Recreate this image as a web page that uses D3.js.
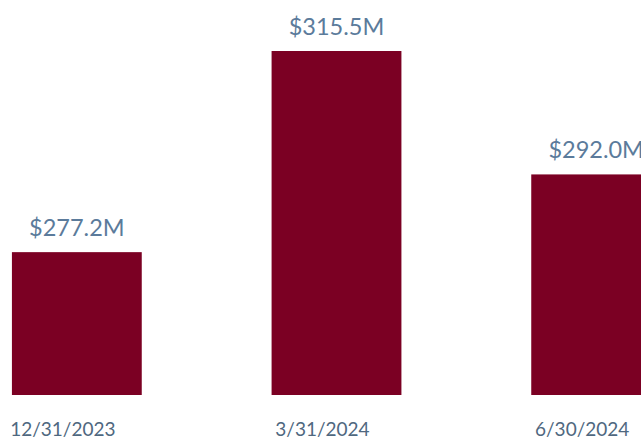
<!DOCTYPE html>
<html>
<head>
<meta charset="utf-8">
<script src="https://cdn.jsdelivr.net/npm/d3@7"></script>
<style>
  html, body { margin: 0; padding: 0; background: #ffffff; }
  svg { display: block; }
</style>
</head>
<body>
<svg id="chart" width="641" height="441"></svg>
<script>
// Quarter-end dates and balances ($ millions)
const categories = ["12/31/2023", "3/31/2024", "6/30/2024"];
const values = [277.2, 315.5, 292.0];
const valueLabels = ["$277.2M", "$315.5M", "$292.0M"];

const svg = d3.select("#chart");

// Bars run off the right edge: band layout spans wider than the view
const x = d3.scaleBand()
  .domain(categories)
  .range([-53, 726])
  .paddingInner(0.5)
  .paddingOuter(0.25);

// Value axis does not start at zero
const y = d3.scaleLinear()
  .domain([250, 315.5])
  .range([395, 51]);

const font = "Lato, 'Open Sans', sans-serif";

svg.selectAll("rect.bar")
  .data(values)
  .join("rect")
  .attr("class", "bar")
  .attr("x", (d, i) => x(categories[i]))
  .attr("width", x.bandwidth())
  .attr("y", d => y(d))
  .attr("height", d => y.range()[0] - y(d))
  .attr("fill", "#7b0023");

svg.selectAll("text.value")
  .data(values)
  .join("text")
  .attr("class", "value")
  .attr("x", (d, i) => x(categories[i]) + x.bandwidth() / 2)
  .attr("y", d => y(d) - 16)
  .attr("text-anchor", "middle")
  .attr("font-family", font)
  .attr("font-size", 23.5)
  .attr("fill", "#5b7b9b")
  .text((d, i) => valueLabels[i]);

svg.selectAll("text.cat")
  .data(categories)
  .join("text")
  .attr("class", "cat")
  .attr("x", d => x(d) + x.bandwidth() / 2 - 14)
  .attr("y", 436)
  .attr("text-anchor", "middle")
  .attr("font-family", font)
  .attr("font-size", 19)
  .attr("fill", "#4f6880")
  .text(d => d);
</script>
</body>
</html>
